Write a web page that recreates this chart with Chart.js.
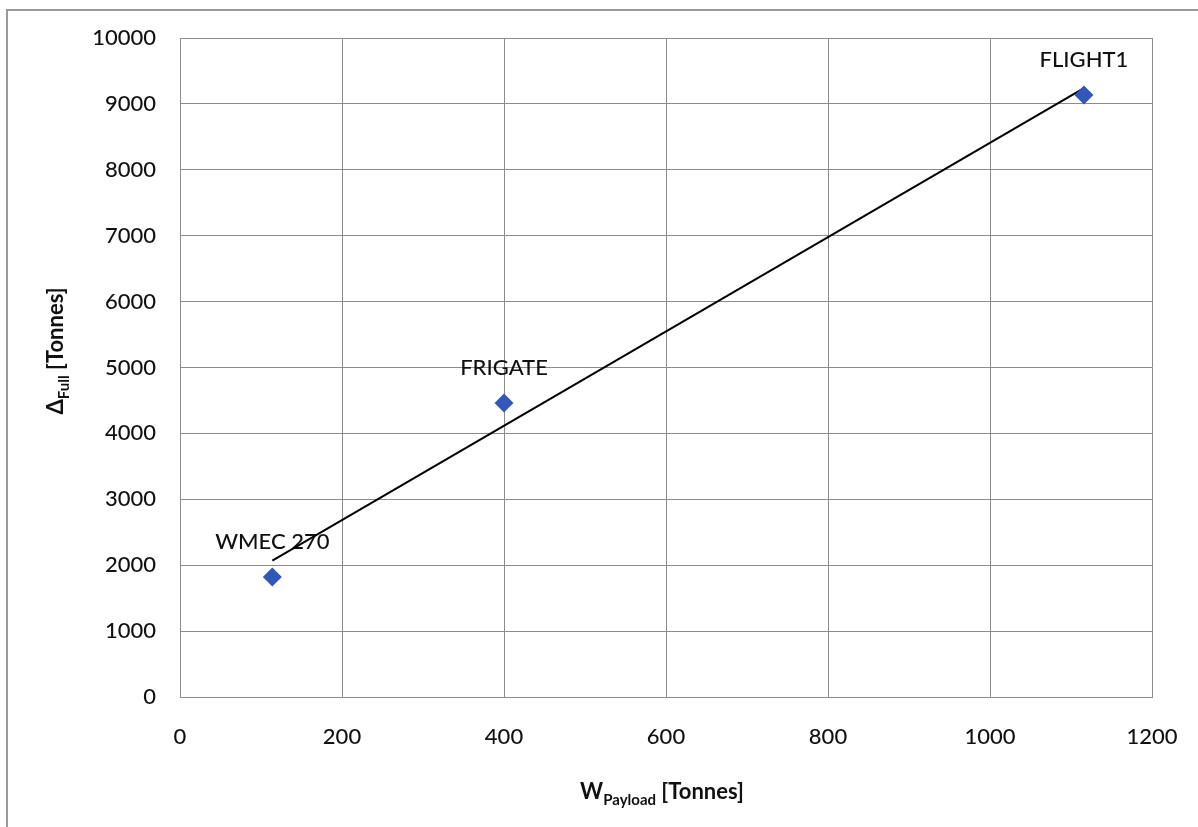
<!DOCTYPE html>
<html>
<head>
<meta charset="utf-8">
<script src="https://cdn.jsdelivr.net/npm/chart.js@4/dist/chart.umd.min.js"></script>
<style>
  html, body { margin: 0; padding: 0; background: #fff; }
  #wrap { width: 1198px; height: 827px; position: relative; }
</style>
</head>
<body>
<div id="wrap"><canvas id="myChart"></canvas></div>
<script>
// ships (W payload vs full displacement, tonnes)
const shipNames = ['WMEC 270', 'FRIGATE', 'FLIGHT1'];
const payload = [114, 400, 1116];
const displacement = [1820, 4460, 9135];

// trend line end points
const trendX = [114, 1116];
const trendY = [2070, 9240];

const xTicks = [0, 200, 400, 600, 800, 1000, 1200];
const yTicks = [0, 1000, 2000, 3000, 4000, 5000, 6000, 7000, 8000, 9000, 10000];

const FONT = 'Lato, "Open Sans", sans-serif';
const GRID = '#8c8c8c';

// frame, point names and axis titles with subscripts
const decorations = {
    id: 'decorations',
    beforeDraw(chart) {
        const c = chart.ctx;
        c.save();
        c.strokeStyle = '#9a9a9a';
        c.lineWidth = 2;
        c.beginPath();
        c.moveTo(7, 827);
        c.lineTo(7, 10);
        c.lineTo(1198, 10);
        c.stroke();
        c.restore();
    },
    beforeDatasetsDraw(chart) {
        const c = chart.ctx;
        const pts = chart.getDatasetMeta(0).data;
        c.save();
        c.fillStyle = '#111';
        c.font = '500 22px ' + FONT;
        c.textAlign = 'center';
        c.textBaseline = 'middle';
        pts.forEach((p, i) => {
            c.fillText(shipNames[i], p.x, p.y - 35);
        });
        c.restore();
    },
    afterDraw(chart) {
        const c = chart.ctx;
        c.save();
        c.fillStyle = '#111';
        c.textBaseline = 'alphabetic';

        // x title: W_Payload [Tonnes]
        const parts = [
            ['W', 'bold 22px ' + FONT, 0],
            ['Payload', 'bold 15px ' + FONT, 6],
            [' [Tonnes]', 'bold 22px ' + FONT, 0]
        ];
        let total = 0;
        parts.forEach(pt => { c.font = pt[1]; total += c.measureText(pt[0]).width; });
        let x = 662 - total / 2;
        parts.forEach(pt => {
            c.font = pt[1];
            c.fillText(pt[0], x, 799 + pt[2]);
            x += c.measureText(pt[0]).width;
        });

        // y title: Δ_Full [Tonnes], rotated
        const yParts = [
            ['Δ', 'bold 22px ' + FONT, 0],
            ['Full', 'bold 15px ' + FONT, 6],
            [' [Tonnes]', 'bold 22px ' + FONT, 0]
        ];
        total = 0;
        yParts.forEach(pt => { c.font = pt[1]; total += c.measureText(pt[0]).width; });
        c.translate(63, 351);
        c.rotate(-Math.PI / 2);
        x = -total / 2;
        yParts.forEach(pt => {
            c.font = pt[1];
            c.fillText(pt[0], x, pt[2]);
            x += c.measureText(pt[0]).width;
        });
        c.restore();
    }
};

new Chart(document.getElementById('myChart'), {
    type: 'scatter',
    data: {
        datasets: [{
            label: 'Ships',
            data: payload.map((v, i) => ({ x: v, y: displacement[i] })),
            pointStyle: 'rectRot',
            pointRadius: 9.5,
            backgroundColor: '#3158b9',
            borderColor: '#3158b9',
            borderWidth: 0
        }, {
            label: 'Trend',
            type: 'line',
            data: trendX.map((v, i) => ({ x: v, y: trendY[i] })),
            borderColor: '#000',
            borderWidth: 2,
            pointRadius: 0,
            fill: false
        }]
    },
    options: {
        responsive: true,
        maintainAspectRatio: false,
        animation: false,
        layout: { padding: { left: 0, top: 38, right: 46, bottom: 0 } },
        plugins: {
            legend: { display: false },
            tooltip: { enabled: false }
        },
        scales: {
            x: {
                type: 'linear',
                min: 0, max: 1200,
                afterBuildTicks: s => { s.ticks = xTicks.map(v => ({ value: v })); },
                afterFit: s => { s.height = 130; s.paddingRight = 0; },
                grid: { color: GRID, lineWidth: 1, drawTicks: false },
                border: { color: GRID, width: 1 },
                ticks: {
                    color: '#111', font: { family: FONT, size: 22, weight: 500 }, padding: 27, maxRotation: 0,
                    callback: v => String(v)
                }
            },
            y: {
                type: 'linear',
                min: 0, max: 10000,
                afterBuildTicks: s => { s.ticks = yTicks.map(v => ({ value: v })); },
                afterFit: s => { s.width = 180; },
                grid: { color: GRID, lineWidth: 1, drawTicks: false },
                border: { color: GRID, width: 1 },
                ticks: {
                    color: '#111', font: { family: FONT, size: 22, weight: 500 }, padding: 24,
                    callback: v => String(v)
                }
            }
        }
    },
    plugins: [decorations]
});
</script>
</body>
</html>
